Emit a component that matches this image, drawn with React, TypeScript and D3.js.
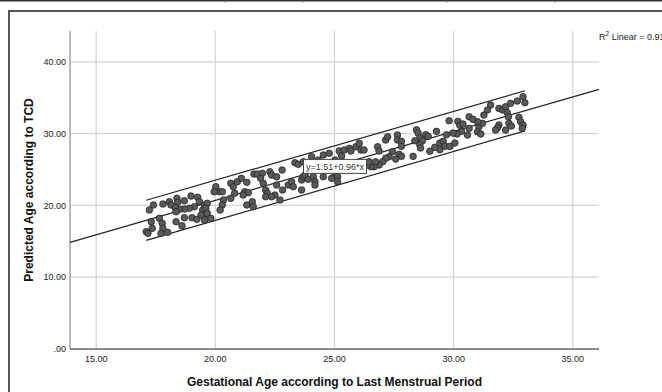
import React from 'react';
import * as d3 from 'd3';

const W = 662;
const H = 392;

// axis ticks
const xTicks = [15, 20, 25, 30, 35];
const yTicks = [0, 10, 20, 30, 40];

// fitted line (y = 1.51 + 0.96*x) and 95% individual prediction band half width
const fitIntercept = 1.51;
const fitSlope = 0.96;
const bandHalf = 2.8;
const r2Text = '0.910';

// gestational age by LMP (x) and predicted age by TCD (y)
const lmpAge = [
  17.23, 17.4, 17.8, 18.07, 18.14, 18.39, 18.42, 18.7, 18.98, 19.26, 19.33, 19.12, 18.91, 18.7, 18.49, 18.32,
  18.35, 19.47, 19.61, 19.54, 17.31, 17.65, 17.77, 17.35, 17.1, 17.17, 17.8, 17.72, 18.0, 18.35, 18.6, 18.7,
  19.02, 19.22, 19.4, 19.54, 20.02, 20.16, 19.95, 20.29, 20.65, 20.75, 20.92, 21.09, 21.32, 20.81, 21.23, 21.38,
  21.17, 21.62, 21.76, 21.97, 21.9, 22.01, 22.11, 22.18, 22.11, 22.29, 22.36, 20.65, 20.34, 20.29, 20.2, 19.66,
  19.6, 19.66, 19.81, 21.32, 21.55, 21.59, 22.57, 22.8, 23.34, 23.48, 23.69, 24.04, 24.32, 24.53, 24.78, 25.02,
  24.39, 22.57, 22.82, 23.06, 23.2, 23.27, 23.62, 23.69, 23.76, 23.9, 24.11, 24.18, 24.18, 23.62, 22.5, 22.36,
  22.71, 24.53, 25.02, 24.88, 23.9, 25.2, 25.41, 25.62, 25.69, 25.9, 26.04, 26.11, 26.24, 26.81, 26.87, 27.15,
  27.23, 27.64, 27.64, 27.71, 27.57, 27.43, 27.29, 27.15, 27.02, 26.87, 26.66, 26.53, 26.39, 26.45, 26.73, 25.13,
  25.13, 25.3, 24.95, 29.81, 30.18, 30.26, 30.39, 30.33, 30.14, 29.97, 29.7, 29.28, 28.44, 28.51, 28.83, 28.93,
  28.58, 28.37, 28.69, 28.58, 28.61, 27.81, 27.81, 29.42, 29.56, 29.63, 29.84, 30.05, 29.42, 29.21, 29.0, 28.3,
  27.81, 31.55, 31.42, 31.27, 31.9, 32.05, 32.18, 32.39, 32.67, 32.91, 32.99, 32.25, 32.3, 32.32, 32.74, 32.81,
  32.91, 32.88, 32.18, 31.9, 31.84, 31.76, 31.06, 31.21, 31.0, 30.65, 30.81, 31.0, 31.14, 30.65, 30.58, 32.42,
];
const tcdAge = [
  19.36, 20.06, 20.2, 20.52, 20.06, 20.99, 20.43, 20.66, 21.31, 21.13, 20.52, 19.82, 19.6, 19.5, 19.46, 19.68,
  19.12, 19.36, 18.9, 20.06, 17.73, 18.2, 17.51, 16.81, 16.34, 16.11, 16.81, 16.11, 16.25, 17.73, 17.17, 18.29,
  18.29, 18.06, 18.66, 17.97, 22.61, 21.91, 21.91, 21.91, 23.08, 22.61, 23.3, 23.77, 23.22, 21.69, 21.91, 21.77,
  21.45, 24.37, 24.37, 24.47, 23.77, 23.08, 22.15, 21.69, 21.21, 24.69, 24.23, 20.99, 20.75, 20.06, 19.36, 20.29,
  19.6, 18.9, 18.2, 20.06, 20.52, 19.82, 24.0, 24.93, 25.95, 25.73, 26.09, 26.78, 26.32, 27.02, 27.26, 26.32,
  25.49, 22.84, 22.15, 22.84, 23.3, 22.61, 23.54, 24.0, 24.23, 23.64, 24.0, 23.3, 22.84, 22.15, 21.45, 21.21,
  20.75, 24.0, 24.47, 23.77, 25.86, 27.58, 27.72, 27.95, 27.58, 28.18, 28.65, 27.72, 27.72, 28.18, 27.58, 29.11,
  29.57, 29.81, 29.11, 27.12, 26.46, 27.48, 26.78, 26.56, 26.09, 25.63, 25.39, 25.39, 25.63, 26.09, 26.09, 24.0,
  23.3, 26.88, 25.91, 31.8, 31.71, 31.16, 31.34, 30.32, 29.95, 30.08, 29.85, 30.32, 30.54, 30.08, 29.85, 29.62,
  29.39, 29.01, 29.01, 28.46, 28.0, 28.93, 28.23, 28.69, 28.93, 28.23, 28.23, 28.69, 27.76, 28.09, 27.54, 26.84,
  26.84, 33.98, 33.29, 32.59, 33.52, 33.29, 33.75, 34.22, 34.54, 35.14, 34.31, 32.91, 32.35, 31.44, 32.27, 31.66,
  31.2, 30.74, 30.5, 31.2, 30.82, 30.5, 30.96, 31.44, 31.66, 32.35, 31.99, 30.27, 29.95, 30.74, 29.81, 31.06,
];

const FONT = '"Liberation Sans", Arial, sans-serif';

export default function App() {
  const plot = { left: 70, right: 599, top: 31, bottom: 349 };

  const x = d3.scaleLinear().domain([13.9, 36.1]).range([plot.left, plot.right]);
  const y = d3.scaleLinear().domain([0, 44.3]).range([plot.bottom, plot.top]);

  const fit = (v: number) => fitIntercept + fitSlope * v;
  const line = d3
    .line<number>()
    .x((d) => x(d))
    .y((d) => y(fit(d)));
  const bandLine = (offset: number) =>
    d3
      .line<number>()
      .x((d) => x(d))
      .y((d) => y(fit(d) + offset));

  const [xMin, xMax] = d3.extent(lmpAge) as [number, number];
  const fmt = (v: number) => (v === 0 ? '.00' : v.toFixed(2));

  const labelX = x(25);
  const labelY = y(fit(25));

  return (
    <svg
      width={W}
      height={H}
      style={{ position: 'absolute', left: 0, top: 0, background: '#fff' }}
      fontFamily={FONT}
    >
      {/* remnant of the table row above */}
      <line x1={0} x2={W} y1={0.5} y2={0.5} stroke="#333" strokeWidth={2} />
      {[225, 303, 447, 555].map((px) => (
        <line key={px} x1={px} x2={px} y1={0} y2={2.5} stroke="#555" strokeWidth={1} />
      ))}

      {/* frame */}
      <line x1={9} x2={W} y1={11} y2={11} stroke="#555" strokeWidth={2} />
      <line x1={9} x2={9} y1={10} y2={H} stroke="#555" strokeWidth={2} />

      {/* grid */}
      {yTicks
        .filter((t) => t > 0)
        .map((t) => (
          <line key={'gy' + t} x1={plot.left} x2={plot.right} y1={y(t)} y2={y(t)} stroke="#d4d4d4" strokeWidth={1.2} />
        ))}
      {xTicks.map((t) => (
        <line key={'gx' + t} x1={x(t)} x2={x(t)} y1={plot.top} y2={plot.bottom} stroke="#d4d4d4" strokeWidth={1.2} />
      ))}

      {/* axes */}
      <line x1={plot.left} x2={plot.left} y1={plot.top} y2={plot.bottom} stroke="#777" strokeWidth={1} />
      <line x1={plot.left} x2={plot.right} y1={plot.bottom} y2={plot.bottom} stroke="#666" strokeWidth={1.4} />

      {yTicks.map((t) => (
        <text key={'ty' + t} x={66} y={y(t)} dy="0.35em" textAnchor="end" fontSize={9} fill="#222">
          {fmt(t)}
        </text>
      ))}
      {xTicks.map((t) => (
        <text key={'tx' + t} x={x(t)} y={362} textAnchor="middle" fontSize={9} fill="#222">
          {fmt(t)}
        </text>
      ))}

      {/* axis titles */}
      <text
        x={(plot.left + plot.right) / 2}
        y={386}
        textAnchor="middle"
        fontSize={12}
        fontWeight="bold"
        fill="#111"
      >
        Gestational Age according to Last Menstrual Period
      </text>
      <text
        transform={`translate(33, ${(plot.top + plot.bottom) / 2}) rotate(-90)`}
        textAnchor="middle"
        fontSize={12}
        fontWeight="bold"
        fill="#111"
      >
        Predicted Age according to TCD
      </text>

      {/* fit line and prediction band */}
      <path d={line(x.domain()) || ''} fill="none" stroke="#222" strokeWidth={1.2} />
      <path d={bandLine(bandHalf)([xMin, xMax]) || ''} fill="none" stroke="#222" strokeWidth={1.2} />
      <path d={bandLine(-bandHalf)([xMin, xMax]) || ''} fill="none" stroke="#222" strokeWidth={1.2} />

      {/* points */}
      {lmpAge.map((v, i) => (
        <circle key={i} cx={x(v)} cy={y(tcdAge[i])} r={3.3} fill="#5a5a5a" stroke="#262626" strokeWidth={0.8} />
      ))}

      {/* equation label */}
      <rect x={labelX - 31} y={labelY - 6.5} width={63} height={14} fill="#fff" stroke="#444" strokeWidth={1} />
      <text x={labelX + 0.5} y={labelY + 0.5} dy="0.35em" textAnchor="middle" fontSize={9} fill="#333">
        y=1.51+0.96*x
      </text>

      {/* R squared */}
      <text x={599} y={40} fontSize={9} fill="#222">
        R<tspan dy={-4} fontSize={6.5}>2</tspan>
        <tspan dy={4}> Linear = {r2Text}</tspan>
      </text>
    </svg>
  );
}
